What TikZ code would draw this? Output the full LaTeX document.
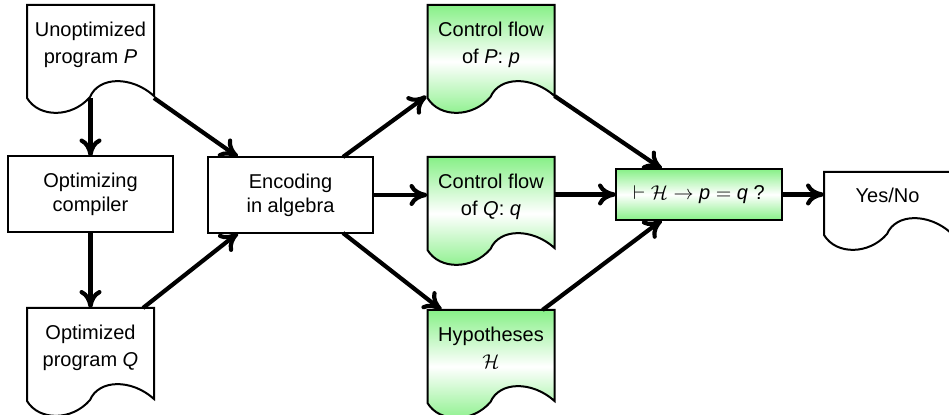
\documentclass[tikz,border=0pt]{standalone}
\usepackage{fontspec}
\setmainfont{Liberation Sans}
\usetikzlibrary{calc,arrows.meta,backgrounds}
\definecolor{docgreen}{RGB}{135,240,135}
\newcommand\drawdoc[2]{%
  \path[#2] (#1.north west) -- (#1.south west)
   .. controls ($(#1.south west)+(12,20)$) and ($(#1.south west)+(45,20)$) .. ($(#1.south west)+(63,-1)$)
   .. controls ($(#1.south west)+(72,-22)$) and ($(#1.south west)+(105,-22)$) .. ($(#1.south east)+(0,-2)$)
   -- (#1.north east) -- cycle;}
\begin{document}
\begin{tikzpicture}[x=0.5pt,y=-0.5pt,
  every node/.style={font=\fontsize{10}{13.5}\selectfont},
  docnode/.style={inner sep=0pt, outer sep=0pt, minimum width=63.5pt, text height=29.5pt, text depth=17pt, align=center, anchor=north},
  boxnode/.style={draw, line width=1pt, inner sep=0pt, outer sep=0pt, align=center, minimum width=82.5pt, minimum height=38pt, font=\fontsize{10}{12}\selectfont},
  docline/.style={draw, line width=1pt},
  greenfill/.style={top color=docgreen, bottom color=docgreen, middle color=white},
  arr/.style={line width=2.1pt, -{Computer Modern Rightarrow[length=9pt,width=11pt]}}
]
\useasboundingbox (0,0) rectangle (949,415);
% nodes
\node[docnode] (P) at (90.5,5) {Unoptimized\\program \textit{P}};
\node[boxnode] (C) at (90.5,194.5) {Optimizing\\compiler};
\node[docnode] (Q) at (90.5,308) {Optimized\\program \textit{Q}};
\node[boxnode] (E) at (290.5,195) {Encoding\\in algebra};
\node[docnode] (CP) at (491,5) {Control flow\\of \textit{P}:\ \textit{p}};
\node[docnode] (CQ) at (491,157) {Control flow\\of \textit{Q}:\ \textit{q}};
\node[docnode] (H) at (491,310) {Hypotheses\\$\mathcal{H}$};
\node[boxnode, minimum width=83pt, minimum height=25.5pt, greenfill] (T) at (699,194.5) {$\vdash \mathcal{H} \to \mbox{\itshape p} = \mbox{\itshape q}$ ?};
\node[docnode, text height=15.25pt, text depth=16.25pt] (Y) at (887.5,172) {Yes/No};
% document outlines
\begin{pgfonlayer}{background}
\drawdoc{P}{docline, fill=white}
\drawdoc{Q}{docline, fill=white}
\drawdoc{CP}{docline, greenfill}
\drawdoc{CQ}{docline, greenfill}
\drawdoc{H}{docline, greenfill}
\drawdoc{Y}{docline, fill=white}
\end{pgfonlayer}
% connectors
\draw[arr] (P.south) -- (C.north);
\draw[arr] (C.south) -- (Q.north);
\draw[arr] (P.south east) -- ($(E.north west)+(30,0)$);
\draw[arr] ($(Q.north east)+(-11,0)$) -- ($(E.south west)+(30,0)$);
\draw[arr] ($(E.north east)+(-30,0)$) -- ($(CP.south west)+(-1,-2)$);
\draw[arr] (E.east) -- (E.east -| CQ.west);
\draw[arr] ($(E.south east)+(-30,0)$) -- ($(H.north west)+(14,0)$);
\draw[arr] ($(CP.south east)+(0,-2)$) -- ($(T.north west)+(46,0)$);
\draw[arr] (T.west -| CQ.east) -- (T.west);
\draw[arr] ($(H.north east)+(-12,0)$) -- ($(T.south west)+(46,0)$);
\draw[arr] (T.east) -- (T.east -| Y.west);
\end{tikzpicture}
\end{document}
